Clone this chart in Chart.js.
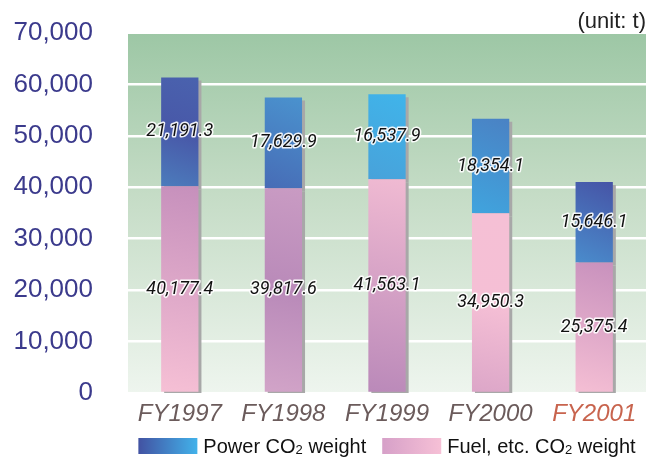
<!DOCTYPE html>
<html>
<head>
<meta charset="utf-8">
<script src="https://cdn.jsdelivr.net/npm/chart.js@4.4.1/dist/chart.umd.min.js"></script>
<style>
  html, body { margin: 0; padding: 0; background: #fff; }
  #wrap { width: 662px; height: 459px; }
</style>
</head>
<body>
<div id="wrap"><canvas id="co2Chart" width="662" height="459"></canvas></div>
<script>
// CO2 emissions per fiscal year, tonnes
const years = ['FY1997', 'FY1998', 'FY1999', 'FY2000', 'FY2001'];
const fuelCO2 = [40177.4, 39817.6, 41563.1, 34950.3, 25375.4];
const powerCO2 = [21191.3, 17629.9, 16537.9, 18354.1, 15646.1];
const yTicks = [0, 10000, 20000, 30000, 40000, 50000, 60000, 70000];

// colour stops per bar, bottom-left -> top-right
const fuelShades = [
  ['#f6c0d5', '#c690bc'],
  ['#d2a4c8', '#b98ab9', '#c99bc3'],
  ['#ba89b9', '#f0bad2'],
  ['#dca6c8', '#f5bfd5', '#f5c0d5'],
  ['#f5bfd4', '#c891bd']
];
const powerShades = [
  ['#4c7cbc', '#4858a8', '#4a62ae'],
  ['#476cb6', '#4a92ce'],
  ['#48a2da', '#40b4ea'],
  ['#40a4de', '#4a82c4'],
  ['#4a8ccc', '#4654a6']
];
const yearColors = ['#6b5b5b', '#6b5b5b', '#6b5b5b', '#6b5b5b', '#c8644e'];

const SANS = '"Liberation Sans", Arial, sans-serif';
const BAR_FRACTION = 0.36;

function barFill(ctx, shades, fallback) {
  const chart = ctx.chart;
  const i = ctx.dataIndex;
  const xs = chart.scales.x, ys = chart.scales.y;
  if (i === undefined || !xs || !ys || !chart.chartArea) return fallback;
  const xc = xs.getPixelForValue(i);
  const half = xs.width / years.length * BAR_FRACTION / 2;
  const lo = ctx.datasetIndex === 0 ? 0 : fuelCO2[i];
  const hi = lo + (ctx.datasetIndex === 0 ? fuelCO2[i] : powerCO2[i]);
  const g = chart.ctx.createLinearGradient(xc - half, ys.getPixelForValue(lo), xc + half, ys.getPixelForValue(hi));
  const stops = shades[i];
  stops.forEach((c, k) => g.addColorStop(k / (stops.length - 1), c));
  return g;
}

// green backdrop behind the grid
const plotBackdrop = {
  id: 'plotBackdrop',
  beforeDraw(chart) {
    const {ctx, chartArea: a} = chart;
    const g = ctx.createLinearGradient(0, a.top, 0, a.bottom);
    g.addColorStop(0, '#9dc7a5');
    g.addColorStop(0.45, '#c5dcc6');
    g.addColorStop(1, '#eef5ee');
    ctx.save();
    ctx.fillStyle = g;
    ctx.fillRect(a.left, a.top, a.right - a.left, a.bottom - a.top);
    ctx.restore();
  }
};

// flat grey drop shadow on the bars
const barShadow = {
  id: 'barShadow',
  beforeDatasetDraw(chart) {
    const c = chart.ctx;
    c.save();
    c.shadowColor = '#a8a8a8';
    c.shadowOffsetX = 3;
    c.shadowOffsetY = 3;
    c.shadowBlur = 0;
  },
  afterDatasetDraw(chart) {
    chart.ctx.restore();
  }
};

// segment values printed in the middle of each segment
const segmentLabels = {
  id: 'segmentLabels',
  afterDatasetsDraw(chart) {
    const c = chart.ctx;
    c.save();
    c.font = 'italic 18px Roboto, "Liberation Sans", sans-serif';
    c.textAlign = 'center';
    c.textBaseline = 'middle';
    c.lineJoin = 'round';
    chart.data.datasets.forEach((ds, di) => {
      chart.getDatasetMeta(di).data.forEach((bar, i) => {
        const txt = ds.data[i].toLocaleString('en-US', {minimumFractionDigits: 1, maximumFractionDigits: 1});
        const y = (bar.y + bar.base) / 2;
        c.strokeStyle = 'rgba(255,255,255,0.9)';
        c.lineWidth = 3;
        c.strokeText(txt, bar.x, y);
        c.fillStyle = '#111';
        c.fillText(txt, bar.x, y);
      });
    });
    c.restore();
  }
};

// legend with subscript "2" in CO2
const co2Legend = {
  id: 'co2Legend',
  afterDraw(chart) {
    const c = chart.ctx;
    const a = chart.chartArea;
    const items = [
      {label: ['Power CO', '2', ' weight'], stops: ['#4252a2', '#42b2ea']},
      {label: ['Fuel, etc. CO', '2', ' weight'], stops: ['#d6a0c8', '#f6c0d6']}
    ];
    const boxW = 59, boxH = 16, gap = 6, itemGap = 16, cy = 446;
    const big = '20px ' + SANS, small = '13px ' + SANS;
    c.save();
    const widths = items.map(it => {
      c.font = big;
      let w = c.measureText(it.label[0]).width + c.measureText(it.label[2]).width;
      c.font = small;
      w += c.measureText(it.label[1]).width;
      return boxW + gap + w;
    });
    let x = (a.left + a.right) / 2 - (widths.reduce((s, w) => s + w, 0) + itemGap) / 2;
    c.textBaseline = 'alphabetic';
    items.forEach((it, k) => {
      const g = c.createLinearGradient(x, 0, x + boxW, 0);
      g.addColorStop(0, it.stops[0]);
      g.addColorStop(1, it.stops[1]);
      c.fillStyle = g;
      c.fillRect(x, cy - boxH / 2, boxW, boxH);
      let tx = x + boxW + gap;
      const base = cy + 7;
      c.fillStyle = '#111';
      c.font = big;
      c.fillText(it.label[0], tx, base);
      tx += c.measureText(it.label[0]).width;
      c.font = small;
      c.fillText(it.label[1], tx, base + 1);
      tx += c.measureText(it.label[1]).width;
      c.font = big;
      c.fillText(it.label[2], tx, base);
      x += widths[k] + itemGap;
    });
    c.restore();
  }
};

new Chart(document.getElementById('co2Chart'), {
  type: 'bar',
  data: {
    labels: years,
    datasets: [
      {
        label: 'Fuel, etc. CO2 weight',
        data: fuelCO2,
        backgroundColor: ctx => barFill(ctx, fuelShades, '#e4aecb'),
        clip: 0
      },
      {
        label: 'Power CO2 weight',
        data: powerCO2,
        backgroundColor: ctx => barFill(ctx, powerShades, '#4a80c0'),
        clip: 0
      }
    ]
  },
  options: {
    responsive: false,
    animation: false,
    devicePixelRatio: 1,
    barPercentage: BAR_FRACTION,
    categoryPercentage: 1,
    layout: { padding: { left: 0, right: 16, top: 0, bottom: 29 } },
    plugins: {
      legend: { display: false },
      tooltip: { enabled: false },
      title: {
        display: true,
        text: '(unit: t)',
        align: 'end',
        color: '#222',
        font: { family: SANS, size: 22, weight: 'normal', lineHeight: 1.0 },
        padding: { top: 11, bottom: 0 }
      }
    },
    scales: {
      x: {
        stacked: true,
        grid: { display: false, drawTicks: false },
        border: { display: false },
        afterFit: s => { s.height = 37; s.paddingLeft = 0; s.paddingRight = 0; },
        ticks: {
          color: c => yearColors[c.index],
          font: { family: SANS, size: 24, style: 'italic' },
          padding: 7,
          maxRotation: 0,
          autoSkip: false
        }
      },
      y: {
        stacked: true,
        min: 0,
        max: 70000,
        afterBuildTicks: s => { s.ticks = yTicks.map(v => ({ value: v })); },
        afterFit: s => { s.width = 128; s.paddingTop = 0; s.paddingBottom = 0; },
        grid: {
          color: '#ffffff',
          lineWidth: c => (c.tick && c.tick.value === 70000 ? 1 : 2.5),
          drawTicks: false
        },
        border: { display: false },
        ticks: {
          color: '#3b3a8c',
          font: { family: SANS, size: 26 },
          padding: 35,
          callback: v => v.toLocaleString('en-US')
        }
      }
    }
  },
  plugins: [plotBackdrop, barShadow, segmentLabels, co2Legend]
});
</script>
</body>
</html>
